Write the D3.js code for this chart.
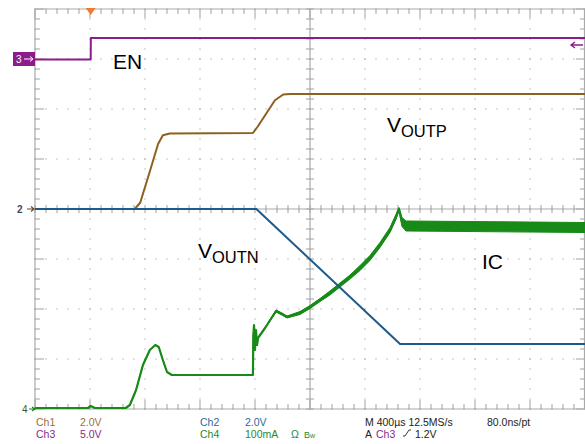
<!DOCTYPE html>
<html><head><meta charset="utf-8">
<script src="https://cdn.jsdelivr.net/npm/d3@7"></script>
<style>
html,body{margin:0;padding:0;background:#fff;}
svg{display:block;font-family:"Liberation Sans",Arial,sans-serif;}
</style></head>
<body>
<svg id="c" width="585" height="444"></svg>
<script>
// ---- Data (time in µs relative to trigger; M 400µs/div) ----
const timeDomain = [-400, 3600];
const divisionsX = d3.range(0, 11);      // 10 horizontal divisions
const divisionsY = d3.range(-4, 5);      // 8 vertical divisions

// Ch1 VOUTP (V), 2.0 V/div, ground at centre
const voutpT = [-400, 325, 365, 435, 495, 530, 580, 1185, 1220, 1345, 1405, 1455, 3600];
const voutpV = [0, 0, 0.25, 1.5, 2.6, 2.95, 3.02, 3.04, 3.3, 4.35, 4.58, 4.6, 4.6];

// Ch2 VOUTN (V), 2.0 V/div, ground at centre
const voutnT = [-400, 1210, 2255, 3600];
const voutnV = [0, 0, -5.4, -5.4];

// Ch3 EN (V), 5.0 V/div, ground 3 div above centre
const enT = [-400, 5, 6, 3600];
const enV = [-0.05, -0.05, 2.1, 2.1];

// Ch4 IC (mA), 100 mA/div, zero 4 div below centre
const icT = [-400, -15, 5, 35, 260, 290, 335, 385, 435, 475, 500, 530, 560, 595, 1185, 1188, 1193, 1200, 1207, 1215, 1222,
             1273, 1353, 1396, 1433, 1527, 1600, 1673, 1745, 1818, 1891, 1964, 2036, 2109, 2182, 2225, 2247, 2269, 2298, 3600];
const icMA = [2, 2, 6, 2, 2, 8, 38, 88, 118, 128, 124, 98, 74, 68, 68, 148, 168, 118, 158, 128, 142,
              162, 196, 190, 184, 192, 204, 218, 232, 248, 264, 282, 302, 328, 358, 384, 400, 374, 366, 363];
// half-width of the noise band on IC (mA)
const icBand = [0, 0, 0, 0, 0, 0, 0, 0, 0, 0, 0, 0, 0, 0, 0, 0, 0, 0, 0, 0, 0,
                1, 2, 2, 2, 3, 3, 3, 4, 4, 4, 5, 5, 5, 5, 5, 3, 9, 10, 10];

const channels = [
  {name: "Ch1", t: voutpT, v: voutpV, perDiv: 2, offset: 0, color: "#8f5f1f", width: 2},
  {name: "Ch2", t: voutnT, v: voutnV, perDiv: 2, offset: 0, color: "#1f5a8a", width: 2},
  {name: "Ch3", t: enT, v: enV, perDiv: 5, offset: 3, color: "#8c1c8c", width: 2},
  {name: "Ch4", t: icT, v: icMA, perDiv: 100, offset: -4, color: "#178a17", width: 2.2}
];

const labels = [
  {main: "EN", sub: "", x: 113, y: 69},
  {main: "V", sub: "OUTP", x: 387, y: 132},
  {main: "V", sub: "OUTN", x: 198, y: 258},
  {main: "IC", sub: "", x: 482, y: 269}
];

// ---- Drawing ----
const svg = d3.select("#c");
const L = 35, R = 585, T = 9, B = 409;
const x = d3.scaleLinear().domain(timeDomain).range([L, R]);
const xd = d3.scaleLinear().domain([0, 10]).range([L, R]);
const y = d3.scaleLinear().domain([-4, 4]).range([B, T]);

const g = svg.append("g");
const gridCol = "#a9a9a9";

// dotted grid (dots every 1/5 division)
g.selectAll("line.hd").data(divisionsY).join("line").attr("class", "hd")
  .attr("x1", L - 0.6).attr("x2", R).attr("y1", d => y(d)).attr("y2", d => y(d))
  .attr("stroke", "#a0a0a0").attr("stroke-width", 1.2).attr("stroke-dasharray", "1.2 9.8");
g.selectAll("line.vd").data(divisionsX).join("line").attr("class", "vd")
  .attr("x1", d => xd(d)).attr("x2", d => xd(d)).attr("y1", B + 0.6).attr("y2", T)
  .attr("stroke", "#a0a0a0").attr("stroke-width", 1.2).attr("stroke-dasharray", "1.2 8.8");

// border
g.append("path").attr("d", `M${L},${B}V${T}H${R}`).attr("stroke", gridCol).attr("fill", "none").attr("stroke-width", 1.2);
g.append("path").attr("d", `M${L},${B}H${R}`).attr("stroke", gridCol).attr("fill", "none").attr("stroke-width", 1.2);
g.append("path").attr("d", `M${R - 0.5},${T}V${B}`).attr("stroke", gridCol).attr("fill", "none").attr("stroke-width", 1.2);
// centre cross
g.append("line").attr("x1", L).attr("x2", R).attr("y1", y(0)).attr("y2", y(0)).attr("stroke", gridCol).attr("stroke-width", 1.2);
g.append("line").attr("x1", xd(5)).attr("x2", xd(5)).attr("y1", T).attr("y2", B).attr("stroke", gridCol).attr("stroke-width", 1.2);

// minor ticks
const minorX = d3.range(0, 10.001, 0.2);
const minorY = d3.range(-4, 4.001, 0.2);
const tk = [];
minorX.forEach(k => {
  const major = Math.abs(k - Math.round(k)) < 1e-6;
  const px = xd(k);
  tk.push([px, y(0) - 4, px, y(0) + 4]);
  tk.push([px, T, px, T + (major ? 9 : 5)]);
  tk.push([px, B, px, B - (major ? 9 : 5)]);
});
minorY.forEach(k => {
  const major = Math.abs(k - Math.round(k)) < 1e-6;
  const py = y(k);
  tk.push([xd(5) - 4, py, xd(5) + 4, py]);
  tk.push([L, py, L + (major ? 9 : 5), py]);
  tk.push([R, py, R - (major ? 9 : 5), py]);
});
g.selectAll("line.tk").data(tk).join("line").attr("class", "tk")
  .attr("x1", d => d[0]).attr("y1", d => d[1]).attr("x2", d => d[2]).attr("y2", d => d[3])
  .attr("stroke", gridCol).attr("stroke-width", 1.1);

// IC noise band
const ch4 = channels[3];
const yc = (c, v) => y(v / c.perDiv + c.offset);
const bandData = icT.map((t, i) => ({t, v: icMA[i], b: icBand[i]}));
svg.append("path").datum(bandData)
  .attr("d", d3.area().x(d => x(d.t)).y0(d => yc(ch4, d.v - d.b)).y1(d => yc(ch4, d.v + d.b)))
  .attr("fill", ch4.color).attr("stroke", ch4.color).attr("stroke-width", 1);

// traces (draw order: Ch4, Ch1, Ch2, Ch3)
[3, 0, 1, 2].forEach(i => {
  const c = channels[i];
  const pts = c.t.map((t, j) => [x(t), yc(c, c.v[j])]);
  svg.append("path").attr("d", d3.line()(pts)).attr("fill", "none")
    .attr("stroke", c.color).attr("stroke-width", c.width).attr("stroke-linejoin", "round");
});

// trigger marker (top)
svg.append("path").attr("d", `M${x(5) - 5},${T - 1}L${x(5) + 5},${T - 1}L${x(5)},${T + 6}Z`).attr("fill", "#f07a30");

// channel reference markers
const ref3 = yc(channels[2], 0);
svg.append("rect").attr("x", 13).attr("y", ref3 - 7).attr("width", 22).attr("height", 14).attr("fill", "#8c1c8c");
svg.append("text").attr("x", 16).attr("y", ref3 + 4).attr("fill", "#fff").attr("font-size", 10).text("3");
svg.append("path").attr("d", `M24,${ref3}H33M30,${ref3 - 2.5}L33,${ref3}L30,${ref3 + 2.5}`).attr("stroke", "#fff").attr("fill", "none");

const ref2 = yc(channels[1], 0);
svg.append("text").attr("x", 17).attr("y", ref2 + 4).attr("fill", "#3b4a66").attr("font-size", 10).attr("font-weight", "bold").text("2");
svg.append("path").attr("d", `M27,${ref2}H34M31,${ref2 - 2.5}L34,${ref2}L31,${ref2 + 2.5}`).attr("stroke", "#6b4a2a").attr("fill", "none").attr("stroke-width", 1.2);

const ref4 = yc(channels[3], 0);
svg.append("text").attr("x", 22).attr("y", ref4 + 4).attr("fill", "#2f5a2f").attr("font-size", 10).text("4");
svg.append("path").attr("d", `M29,${ref4}H35M32,${ref4 - 2}L35,${ref4}L32,${ref4 + 2}`).attr("stroke", "#178a17").attr("fill", "none").attr("stroke-width", 1.2);

// right-side EN arrow
const arrY = 45;
svg.append("path").attr("d", `M583,${arrY}H572M575,${arrY - 3}L571,${arrY}L575,${arrY + 3}`).attr("stroke", "#8c1c8c").attr("fill", "none").attr("stroke-width", 1.4);

// labels
labels.forEach(l => {
  const t = svg.append("text").attr("x", l.x).attr("y", l.y).attr("font-size", 21).attr("fill", "#000");
  t.append("tspan").text(l.main);
  if (l.sub) t.append("tspan").attr("font-size", 16.5).attr("dy", 5).text(l.sub);
});

// bottom readout
const readout = [
  {x: 36, y: 426, t: "Ch1", c: "#9a7040"}, {x: 80, y: 426, t: "2.0V", c: "#9a7040"},
  {x: 36, y: 437.5, t: "Ch3", c: "#8a2a8a"}, {x: 80, y: 437.5, t: "5.0V", c: "#8a2a8a"},
  {x: 200, y: 426, t: "Ch2", c: "#2a6a9a"}, {x: 245, y: 426, t: "2.0V", c: "#2a6a9a"},
  {x: 200, y: 437.5, t: "Ch4", c: "#2a8a2a"}, {x: 245, y: 437.5, t: "100mA", c: "#2a8a2a"},
  {x: 291, y: 437.5, t: "Ω", c: "#2a8a2a"},
  {x: 365, y: 426, t: "M 400µs  12.5MS/s", c: "#222"}, {x: 487, y: 426, t: "80.0ns/pt", c: "#222"},
  {x: 365, y: 437.5, t: "A", c: "#222"}, {x: 376, y: 437.5, t: "Ch3", c: "#8a2a8a"},
  {x: 415, y: 437.5, t: "1.2V", c: "#222"}
];
svg.selectAll("text.ro").data(readout).join("text").attr("class", "ro")
  .attr("x", d => d.x).attr("y", d => d.y).attr("fill", d => d.c).attr("font-size", 10.5).text(d => d.t);
const bw = svg.append("text").attr("x", 304).attr("y", 437.5).attr("fill", "#2a8a2a").attr("font-size", 9);
bw.append("tspan").text("B"); bw.append("tspan").attr("font-size", 7).text("w");
// trigger slope symbol
svg.append("path").attr("d", "M403,436H405L409,430H411").attr("stroke", "#222").attr("fill", "none").attr("stroke-width", 0.9);
</script>
</body></html>
